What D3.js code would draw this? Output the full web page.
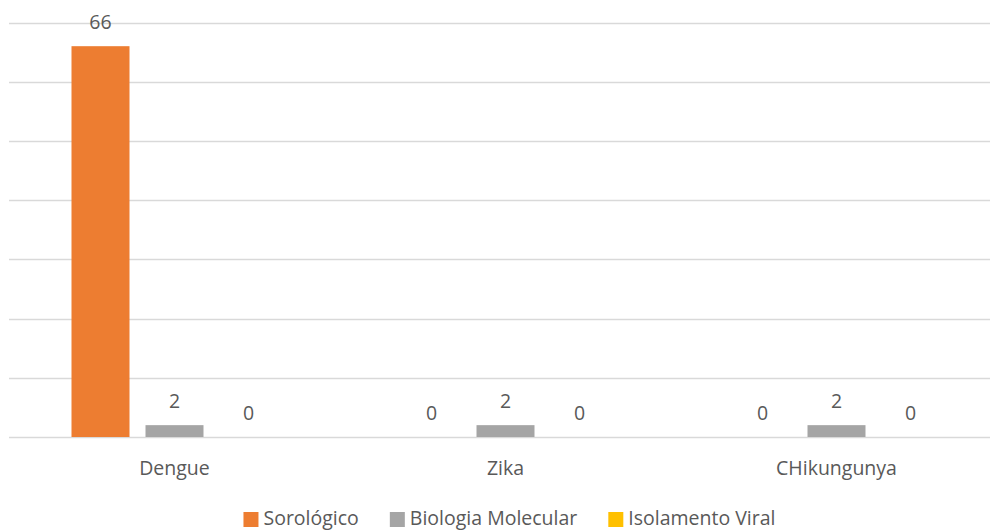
<!DOCTYPE html>
<html>
<head>
<meta charset="utf-8">
<script src="https://cdn.jsdelivr.net/npm/d3@7"></script>
<style>
  body { margin: 0; background: #fff; overflow: hidden; }
  svg { display: block; }
  svg text { font-family: "Open Sans", sans-serif; fill: #595959; }
</style>
</head>
<body>
<svg id="chart" width="990" height="531"></svg>
<script>
// chart data
const categories = ['Dengue', 'Zika', 'CHikungunya'];
const seriesNames = ['Sorológico', 'Biologia Molecular', 'Isolamento Viral'];
const sorologico = [66, 0, 0];
const biologiaMolecular = [2, 2, 2];
const isolamentoViral = [0, 0, 0];
const yTicks = [0, 10, 20, 30, 40, 50, 60, 70];

const seriesValues = [sorologico, biologiaMolecular, isolamentoViral];
const colors = ['#ED7D31', '#A5A5A5', '#FFC000'];

const svg = d3.select('#chart');
const margin = { top: 22.5, left: 9 };
const plotBottom = 437;
const fontSize = 19.5;

// scales
const x0 = d3.scaleBand()
    .domain(categories)
    .range([margin.left, margin.left + 993])
    .padding(0);

const x1 = d3.scaleBand()
    .domain(seriesNames)
    .range([62.5, 268.5])
    .paddingInner(16 / 74)
    .paddingOuter(0);

const y = d3.scaleLinear()
    .domain([0, 70])
    .range([plotBottom, margin.top]);

// gridlines
svg.append('g')
    .selectAll('line')
    .data(yTicks)
    .enter()
    .append('line')
    .attr('x1', margin.left)
    .attr('x2', 990)
    .attr('y1', d => Math.round(y(d)) + 0.5)
    .attr('y2', d => Math.round(y(d)) + 0.5)
    .attr('stroke', '#d9d9d9')
    .attr('stroke-width', 1.3);

// build rows
const rows = [];
categories.forEach((c, i) => {
    seriesNames.forEach((s, j) => {
        rows.push({ category: c, series: s, value: seriesValues[j][i], color: colors[j] });
    });
});

const groups = svg.append('g');

groups.selectAll('rect')
    .data(rows)
    .enter()
    .append('rect')
    .attr('x', d => x0(d.category) + x1(d.series))
    .attr('y', d => y(d.value))
    .attr('width', x1.bandwidth())
    .attr('height', d => plotBottom - y(d.value))
    .attr('fill', d => d.color);

// value labels
groups.selectAll('.value-label')
    .data(rows)
    .enter()
    .append('text')
    .attr('class', 'value-label')
    .attr('x', d => x0(d.category) + x1(d.series) + x1.bandwidth() / 2)
    .attr('y', d => y(d.value) - 17)
    .attr('text-anchor', 'middle')
    .attr('font-size', fontSize)
    .text(d => d.value);

// x axis labels
const xAxis = svg.append('g')
    .attr('transform', `translate(0,${plotBottom})`)
    .call(d3.axisBottom(x0).tickSize(0).tickPadding(0));
xAxis.select('.domain').remove();
xAxis.selectAll('text')
    .attr('dy', null)
    .attr('y', 38)
    .attr('font-size', fontSize)
    .style('font-family', '"Open Sans", sans-serif')
    .attr('fill', '#595959');

// legend
const legend = svg.append('g');
const items = legend.selectAll('g')
    .data(seriesNames)
    .enter()
    .append('g');
items.append('rect')
    .attr('width', 15)
    .attr('height', 15)
    .attr('y', 512)
    .attr('fill', (d, i) => colors[i]);
items.append('text')
    .attr('x', 20)
    .attr('y', 525)
    .attr('font-size', fontSize)
    .text(d => d);

// position legend items side by side, centered
let offset = 0;
const widths = [];
items.each(function () {
    const w = this.querySelector('text').getComputedTextLength() + 20;
    widths.push(w);
});
const gap = 31;
const total = d3.sum(widths) + gap * (widths.length - 1);
let startX = 509.5 - total / 2;
items.attr('transform', (d, i) => {
    const tx = startX + offset;
    offset += widths[i] + gap;
    return `translate(${tx},0)`;
});
</script>
</body>
</html>
